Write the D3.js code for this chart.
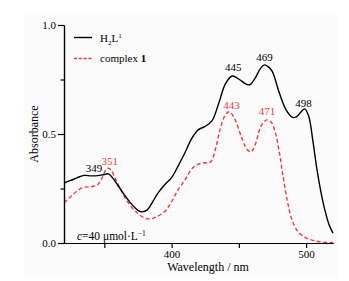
<!DOCTYPE html>
<html>
<head>
<meta charset="utf-8">
<script src="https://cdn.jsdelivr.net/npm/d3@7"></script>
<style>
  body { margin: 0; background: #fff; }
  svg text { font-family: "Liberation Serif", "DejaVu Serif", serif; }
</style>
</head>
<body>
<div id="chart"></div>
<script>
// H2L1 spectrum (black)
const ligandWl = [320, 325, 330, 335, 340, 345, 350, 353, 356, 360, 365, 370, 375, 378, 382, 386, 390, 395,
  400, 405, 410, 415, 420, 425, 430, 435, 440, 445, 450, 455, 458, 462, 466, 469, 472, 475, 480, 485, 490,
  493, 496, 499, 502, 505, 508, 511, 514, 517, 520];
const ligandAbs = [0.275, 0.287, 0.300, 0.310, 0.308, 0.309, 0.314, 0.317, 0.300, 0.265, 0.220, 0.180, 0.150, 0.143, 0.152, 0.190, 0.230, 0.268,
  0.300, 0.355, 0.415, 0.480, 0.520, 0.535, 0.560, 0.640, 0.730, 0.766, 0.752, 0.730, 0.726, 0.755, 0.800, 0.817, 0.808, 0.785, 0.690, 0.612, 0.576,
  0.580, 0.600, 0.615, 0.580, 0.470, 0.340, 0.235, 0.150, 0.085, 0.045];

// complex 1 spectrum (red dashed)
const complexWl = [320, 325, 330, 335, 340, 345, 348, 351, 353, 355, 358, 363, 369, 375, 380, 384, 389, 395,
  400, 405, 410, 415, 420, 425, 429, 433, 436, 440, 443, 447, 452, 456, 459, 462, 466, 469, 471, 474, 477,
  480, 483, 486, 489, 493, 497, 501, 505, 510, 515, 520];
const complexAbs = [0.185, 0.212, 0.240, 0.256, 0.258, 0.268, 0.295, 0.335, 0.343, 0.335, 0.297, 0.235, 0.174, 0.135, 0.115, 0.110, 0.121, 0.145,
  0.190, 0.245, 0.290, 0.340, 0.362, 0.368, 0.372, 0.440, 0.520, 0.588, 0.602, 0.568, 0.485, 0.430, 0.418, 0.448, 0.530, 0.558, 0.565, 0.555, 0.510,
  0.420, 0.300, 0.195, 0.115, 0.060, 0.035, 0.020, 0.012, 0.006, 0.003, 0.002];

// peak annotations
const ligandPeaks = [349, 445, 469, 498];
const complexPeaks = [351, 443, 471];

const xMajorTicks = [400, 500];
const xMinorTicks = [350, 450];
const yMajorTicks = [0, 0.5, 1.0];
const yMinorTicks = [0.25, 0.75];

const width = 349, height = 281;
const red = "#f0393c";

const svg = d3.select("#chart").append("svg")
  .attr("width", width)
  .attr("height", height);

svg.append("rect")
  .attr("x", 24).attr("y", 15)
  .attr("width", 314).attr("height", 262)
  .attr("fill", "#fbfbfb");

const x = d3.scaleLinear().domain([320, 520]).range([64, 333]);
const y = d3.scaleLinear().domain([0, 1]).range([243, 25]);

function toPoints(wl, abs) {
  return wl.map((w, i) => ({ wl: w, abs: abs[i] }));
}
const ligand = toPoints(ligandWl, ligandAbs);
const complex = toPoints(complexWl, complexAbs);

const line = d3.line()
  .x(d => x(d.wl))
  .y(d => y(d.abs))
  .curve(d3.curveCatmullRom.alpha(0.5));

svg.append("path")
  .attr("d", line(complex))
  .attr("fill", "none")
  .attr("stroke", red)
  .attr("stroke-width", 1.4)
  .attr("stroke-dasharray", "4,2.5");

svg.append("path")
  .attr("d", line(ligand))
  .attr("fill", "none")
  .attr("stroke", "#000")
  .attr("stroke-width", 1.4);

// axes
function styleAxis(g) {
  g.selectAll("path, line").attr("stroke", "#000").attr("stroke-width", 1.2);
  g.selectAll("text").attr("font-size", 11).attr("fill", "#000")
    .attr("font-family", "Liberation Serif");
}

svg.append("g")
  .attr("transform", "translate(0,243)")
  .call(d3.axisBottom(x).tickValues(xMinorTicks).tickSize(5).tickSizeOuter(0).tickFormat(""))
  .call(styleAxis);
svg.append("g")
  .attr("transform", "translate(0,243)")
  .call(d3.axisBottom(x).tickValues(xMajorTicks).tickSize(5).tickSizeOuter(0).tickPadding(2))
  .call(styleAxis);

svg.append("g")
  .attr("transform", "translate(64,0)")
  .call(d3.axisLeft(y).tickValues(yMinorTicks).tickSize(3.5).tickSizeOuter(0).tickFormat(""))
  .call(styleAxis);
svg.append("g")
  .attr("transform", "translate(64,0)")
  .call(d3.axisLeft(y).tickValues(yMajorTicks).tickSize(6).tickSizeOuter(0).tickPadding(2).tickFormat(d3.format(".1f")))
  .call(styleAxis);

// axis titles
svg.append("text")
  .attr("x", 208).attr("y", 271)
  .attr("text-anchor", "middle")
  .attr("font-size", 12)
  .text("Wavelength / nm");

svg.append("text")
  .attr("transform", "translate(38,134) rotate(-90)")
  .attr("text-anchor", "middle")
  .attr("font-size", 12)
  .text("Absorbance");

// peak labels, nudged as in the figure
const labelNudge = {
  ligand: { 349: [-9, -3], 445: [1, -5], 469: [0, -4], 498: [0, -1.5] },
  complex: { 351: [4, -5], 443: [2, -3], 471: [0, -5] }
};
function peakValue(points, wl) {
  return d3.least(points, p => Math.abs(p.wl - wl)).abs;
}
svg.append("g").selectAll("text")
  .data(ligandPeaks)
  .join("text")
  .attr("x", d => x(d) + labelNudge.ligand[d][0])
  .attr("y", d => y(peakValue(ligand, d)) + labelNudge.ligand[d][1])
  .attr("text-anchor", "middle")
  .attr("font-size", 11)
  .text(d => d);

svg.append("g").selectAll("text")
  .data(complexPeaks)
  .join("text")
  .attr("x", d => x(d) + labelNudge.complex[d][0])
  .attr("y", d => y(peakValue(complex, d)) + labelNudge.complex[d][1])
  .attr("text-anchor", "middle")
  .attr("font-size", 11)
  .attr("fill", red)
  .text(d => d);

// concentration note
const note = svg.append("text")
  .attr("x", 77).attr("y", 240)
  .attr("font-size", 11.5);
note.append("tspan").attr("font-style", "italic").text("c");
note.append("tspan").text("=40 μmol·L");
note.append("tspan").attr("font-size", 7.5).attr("dy", -4).text("−1");

// legend
const legend = svg.append("g");
legend.append("line")
  .attr("x1", 74).attr("x2", 92).attr("y1", 37.5).attr("y2", 37.5)
  .attr("stroke", "#000").attr("stroke-width", 1.4);
const lt = legend.append("text").attr("x", 100).attr("y", 41.5).attr("font-size", 11);
lt.append("tspan").text("H");
lt.append("tspan").attr("font-size", 7).attr("dy", 3).text("2");
lt.append("tspan").attr("dy", -3).text("L");
lt.append("tspan").attr("font-size", 7).attr("dy", -4).text("1");

legend.append("line")
  .attr("x1", 74).attr("x2", 92).attr("y1", 58.5).attr("y2", 58.5)
  .attr("stroke", red).attr("stroke-width", 1.4)
  .attr("stroke-dasharray", "3,1.8");
const ct = legend.append("text").attr("x", 100).attr("y", 62).attr("font-size", 11);
ct.append("tspan").text("complex ");
ct.append("tspan").attr("font-weight", "bold").text("1");
</script>
</body>
</html>
